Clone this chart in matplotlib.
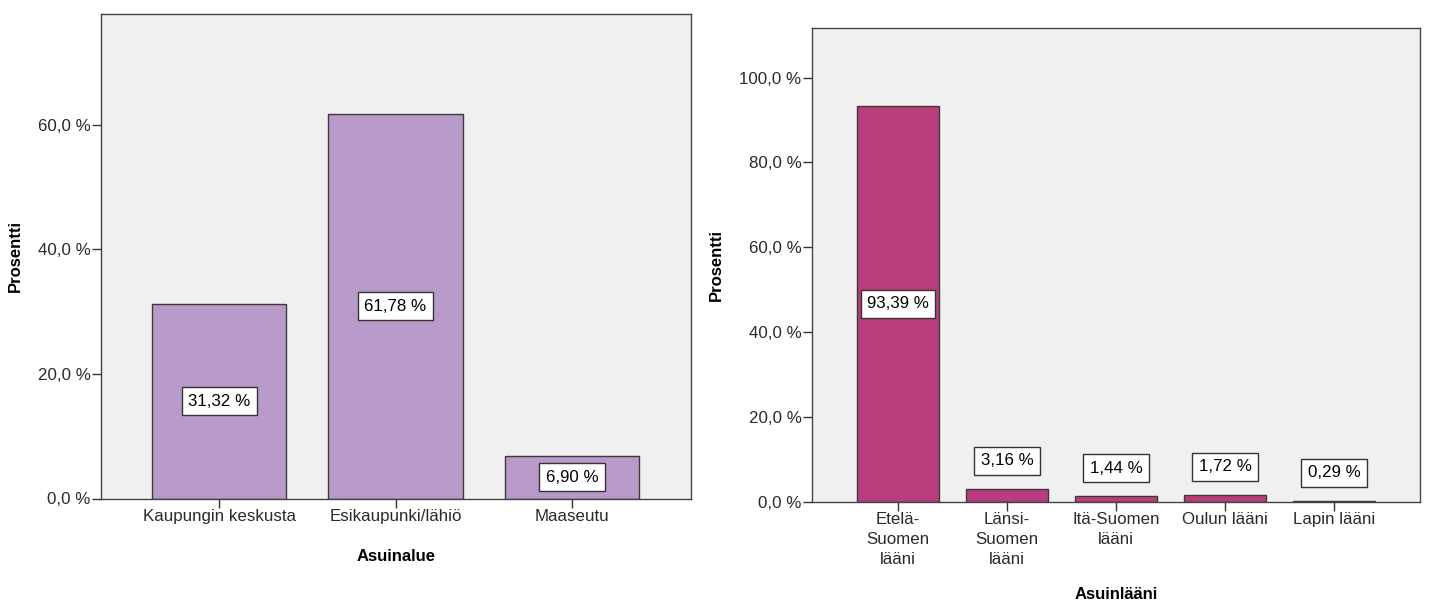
import matplotlib
matplotlib.use("Agg")
import matplotlib.pyplot as plt
from matplotlib.ticker import FuncFormatter

plt.rcParams['font.family'] = ['Liberation Sans', 'DejaVu Sans']

# left chart: Asuinalue
alue_cats = ['Kaupungin keskusta', 'Esikaupunki/lähiö', 'Maaseutu']
alue_pct = [31.32, 61.78, 6.90]

# right chart: Asuinlääni
laani_cats = ['Etelä-\nSuomen\nlääni', 'Länsi-\nSuomen\nlääni', 'Itä-Suomen\nlääni',
              'Oulun lääni', 'Lapin lääni']
laani_pct = [93.39, 3.16, 1.44, 1.72, 0.29]

left_ticks = [0, 20, 40, 60]
right_ticks = [0, 20, 40, 60, 80, 100]

fi_fmt = FuncFormatter(lambda v, p: f"{v:.1f}".replace('.', ',') + " %")


def fi_label(v):
    return f"{v:.2f}".replace('.', ',') + " %"


fig = plt.figure(figsize=(14.32, 6.03), dpi=100)
ax1 = fig.add_axes([101 / 1432, 1 - 498.5 / 603, 590 / 1432, 485 / 603])
ax2 = fig.add_axes([812 / 1432, 1 - 502 / 603, 608 / 1432, 474.5 / 603])

box = dict(boxstyle='square,pad=0.38', fc='white', ec='#333333', lw=1)
FS = 12.2


def style(ax, ticks, ylim, xlim):
    ax.set_facecolor('#F0F0F0')
    for s in ax.spines.values():
        s.set_color('#444444')
        s.set_linewidth(1)
    ax.set_ylim(*ylim)
    ax.set_xlim(*xlim)
    ax.set_yticks(ticks)
    ax.yaxis.set_major_formatter(fi_fmt)
    ax.tick_params(axis='both', colors='#333333', labelsize=FS, length=6.5,
                   width=1, labelcolor='#2a2a2a', pad=1)
    ax.set_ylabel('Prosentti', fontsize=12, fontweight='bold', labelpad=11)


# left
x1 = range(len(alue_cats))
ax1.bar(x1, alue_pct, width=0.76, color='#B89ACA', edgecolor='#3a3a3a', lw=1)
style(ax1, left_ticks, (0, 77.9), (-0.669, 2.674))
ax1.set_xticks(list(x1))
ax1.set_xticklabels(alue_cats)
ax1.set_xlabel('Asuinalue', fontsize=12, fontweight='bold', labelpad=18)
for i, v in enumerate(alue_pct):
    ax1.text(i, v / 2, fi_label(v), ha='center', va='center', fontsize=FS, bbox=box)

# right
x2 = range(len(laani_cats))
ax2.bar(x2, laani_pct, width=0.75, color='#BA3D7B', edgecolor='#3a3a3a', lw=1)
style(ax2, right_ticks, (0, 111.8), (-0.79, 4.79))
ax2.set_xticks(list(x2))
ax2.set_xticklabels(laani_cats, linespacing=1.38, va='top')
ax2.set_xlabel('Asuinlääni', fontsize=12, fontweight='bold', labelpad=15)
for i, v in enumerate(laani_pct):
    if v > 20:
        ax2.text(i, v / 2, fi_label(v), ha='center', va='center', fontsize=FS, bbox=box)
    else:
        ax2.annotate(fi_label(v), (i, v), xytext=(0, 20), textcoords='offset points',
                     ha='center', va='center', fontsize=FS, bbox=box)

fig.savefig('out.png', dpi=100)
